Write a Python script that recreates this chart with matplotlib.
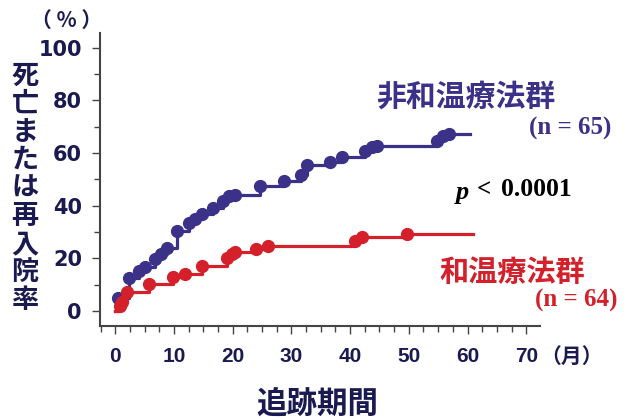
import matplotlib
matplotlib.use("Agg")
import matplotlib.pyplot as plt
from matplotlib.ticker import MultipleLocator

# --- DATOS ---
# Grupo sin terapia Waon (n = 65): tiempos de evento (meses) y tasa acumulada (%)
meses_control = [0.5, 2.4, 4.0, 5.1, 6.7, 7.8, 8.8, 10.5, 12.5, 13.5, 14.8, 16.7,
                 18.4, 19.3, 20.4, 24.7, 28.7, 31.6, 32.7, 36.6, 38.6, 42.6, 43.7,
                 44.6, 54.8, 55.9, 56.8]
tasa_control = [4.8, 12.4, 15.3, 16.6, 19.7, 21.7, 23.8, 30.2, 33.3, 34.9, 36.9, 39.0,
                41.6, 43.5, 44.1, 47.3, 49.2, 51.7, 55.5, 56.4, 58.4, 60.6, 62.2,
                62.8, 64.4, 66.5, 67.2]
fin_control = 60.5

# Grupo con terapia Waon (n = 64)
meses_waon = [0.8, 1.1, 2.0, 5.7, 9.9, 11.9, 14.8, 19.0, 19.9, 20.4, 23.9, 26.1,
              40.9, 42.0, 49.7]
tasa_waon = [2.0, 3.5, 7.3, 10.3, 12.8, 14.1, 17.1, 20.0, 21.5, 22.5, 23.5, 24.7,
             26.7, 28.0, 29.3]
fin_waon = 61.0

ticks_x = [0, 10, 20, 30, 40, 50, 60, 70]
ticks_y = [0, 20, 40, 60, 80, 100]

AZUL = "#3b3189"
ROJO = "#d3202a"
TEXTO = "#1b1a50"

plt.rcParams["font.family"] = ["DejaVu Sans", "Noto Sans CJK JP"]
CJK = ["Noto Sans CJK JP", "DejaVu Sans"]
SERIF = "Liberation Serif"

fig = plt.figure(figsize=(6.29, 4.20), dpi=100)
ax = fig.add_axes([0.159, 0.224, 0.70, 0.698])


def curva(ax, meses, tasa, fin, color):
    xs = [0] + meses + [fin]
    ys = [0] + tasa + [tasa[-1]]
    ax.step(xs, ys, where="post", color=color, linewidth=2.3, zorder=2)
    ax.plot(meses, tasa, "o", color=color, markersize=8.5, zorder=3)


curva(ax, meses_control, tasa_control, fin_control, AZUL)
curva(ax, meses_waon, tasa_waon, fin_waon, ROJO)

# --- EJES ---
ax.set_xlim(-2.6, 72.4)
ax.set_ylim(-5.7, 105.7)
for lado in ("top", "right"):
    ax.spines[lado].set_visible(False)
for lado in ("left", "bottom"):
    ax.spines[lado].set_color("#444444")
    ax.spines[lado].set_linewidth(1.5)

ax.set_xticks(ticks_x)
ax.set_yticks(ticks_y)
ax.xaxis.set_minor_locator(MultipleLocator(2.5))
ax.yaxis.set_minor_locator(MultipleLocator(10))
ax.tick_params(which="both", direction="out", color="#444444", width=1.0)
ax.tick_params(which="major", length=6)
ax.tick_params(which="minor", length=4)
ax.tick_params(axis="x", which="major", pad=9)
ax.tick_params(axis="y", which="major", pad=7)
for etiqueta in ax.get_yticklabels():
    etiqueta.set_fontsize(15)
    etiqueta.set_fontweight("bold")
    etiqueta.set_color(TEXTO)
for etiqueta in ax.get_xticklabels():
    etiqueta.set_family("Liberation Sans")
    etiqueta.set_fontsize(15)
    etiqueta.set_fontweight("bold")
    etiqueta.set_color(TEXTO)

# --- TEXTOS ---
fig.text(25 / 629, 1 - 188 / 420, "\n".join("死亡または再入院率"), family=CJK,
         fontsize=19.5, fontweight="bold", color=TEXTO, ha="center", va="center",
         linespacing=1.0)
fig.text(67 / 629, 1 - 20 / 420, "（ % ）", family=CJK, fontsize=15,
         fontweight="bold", color=TEXTO, ha="center", va="center")
fig.text(572 / 629, 1 - 356 / 420, "（月）", family=CJK, fontsize=15,
         fontweight="bold", color=TEXTO, ha="center", va="center")
fig.text(317 / 629, 1 - 404 / 420, "追跡期間", family=CJK, fontsize=22,
         fontweight="bold", color=TEXTO, ha="center", va="center")

fig.text(466 / 629, 1 - 97 / 420, "非和温療法群", family=CJK, fontsize=21.5,
         fontweight="bold", color=AZUL, ha="center", va="center")
fig.text(570 / 629, 1 - 128 / 420, "(n = 65)", family=SERIF,
         fontsize=18, fontweight="bold", color=AZUL, ha="center", va="center")
fig.text(463 / 629, 1 - 193 / 420, "p", family=SERIF, fontsize=19,
         fontweight="bold", fontstyle="italic", color="black",
         ha="center", va="center")
fig.text(484 / 629, 1 - 190 / 420, "<", family=SERIF, fontsize=18,
         fontweight="bold", color="black", ha="center", va="center")
fig.text(536 / 629, 1 - 190 / 420, "0.0001", family=SERIF, fontsize=18.5,
         fontweight="bold", color="black", ha="center", va="center")
fig.text(512 / 629, 1 - 272 / 420, "和温療法群", family=CJK, fontsize=21,
         fontweight="bold", color=ROJO, ha="center", va="center")
fig.text(576 / 629, 1 - 300 / 420, "(n = 64)", family=SERIF,
         fontsize=18, fontweight="bold", color=ROJO, ha="center", va="center")

fig.savefig("out.png", dpi=100)
plt.close(fig)
